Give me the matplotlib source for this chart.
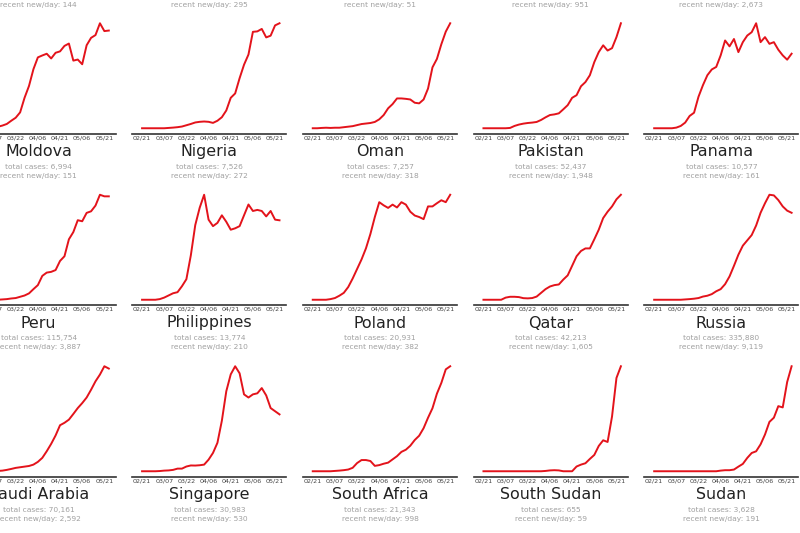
import numpy as np
import matplotlib
matplotlib.use('Agg')
import matplotlib.pyplot as plt

# day offsets from 02/21, sampled every 3 days up to 05/24
days = np.arange(0, 94, 3)
tick_days = [0, 15, 30, 45, 60, 75, 90]
tick_labels = ['02/21', '03/07', '03/22', '04/06', '04/21', '05/06', '05/21']

countries = ['Moldova', 'Nigeria', 'Oman', 'Pakistan', 'Panama',
             'Peru', 'Philippines', 'Poland', 'Qatar', 'Russia',
             'Saudi Arabia', 'Singapore', 'South Africa', 'South Sudan', 'Sudan']
total_cases = [6994, 7526, 7257, 52437, 10577,
               115754, 13774, 20931, 42213, 335880,
               70161, 30983, 21343, 655, 3628]
recent_new = [151, 272, 318, 1948, 161,
              3887, 210, 382, 1605, 9119,
              2592, 530, 998, 59, 191]
# recent new/day of the row above (cut off at the top)
prev_recent = [144, 295, 51, 951, 2673]

# new cases per day, relative to each country's peak
moldova = [0, 0, 0, 0.3, 0.5, 0.9, 1.4, 2.5, 4, 7, 9.8, 14.8, 28.4, 39.4, 55, 66,
           67.8, 69.4, 65, 70.3, 71.6, 76.7, 78.9, 63, 64, 59.6, 77.3, 84.2, 86.8, 97.8, 90.5, 91]
nigeria = [0, 0, 0, 0, 0, 0, 0.3, 0.6, 1, 1.6, 2.8, 4, 5.4, 6, 6.3, 6,
           5, 7, 10.3, 16.6, 28.4, 32.5, 46.7, 59.3, 68.8, 90, 90.4, 92.7, 84.8, 86.4, 96, 98]
oman = [0, 0, 0.3, 0.5, 0.3, 0.5, 0.5, 1, 1.5, 2, 3, 4, 4.5, 5, 6, 8.5,
        12.6, 19, 23, 28.4, 28.4, 28, 27.4, 24.3, 23.7, 27.4, 37.8, 58, 66, 80, 92, 100]
pakistan = [0, 0, 0, 0, 0, 0, 0.3, 2.2, 3.5, 4.4, 5, 5.4, 6, 7.9, 10.4, 12.6,
            13.2, 14.2, 18, 22, 29, 31.5, 40, 44, 50.5, 63, 72.5, 79, 74, 76.3, 86.8, 100]
panama = [0, 0, 0, 0, 0, 0.6, 2.2, 5.4, 11.7, 14.8, 30, 41, 50.5, 56, 58.4, 69.4,
          83.6, 78, 85, 72.5, 82, 88.3, 91.5, 100, 82, 86.8, 80.4, 82, 74.8, 69.4, 65.3, 71]
peru = [0, 0, 0, 0, 0, 0, 0, 0.3, 0.6, 1.2, 1.6, 2.8, 4, 6, 10, 13.8,
        22.5, 25.6, 26.3, 28, 36.6, 41, 57, 63.8, 75, 74, 81.9, 83.4, 88.8, 99, 97.5, 97.5]
philippines = [0, 0, 0, 0, 0.6, 2, 4, 6, 7, 12.5, 19, 41, 69, 85, 97, 74,
               68, 71, 78, 72, 64.7, 66, 68, 78, 88, 82, 83, 82, 77, 82, 74, 73.4]
poland = [0, 0, 0, 0, 0.6, 1.6, 3.8, 6.5, 12, 20, 29, 38, 48.5, 62, 78, 92,
          89, 86.6, 89.7, 87, 92, 89.7, 83, 79.4, 78, 76, 88, 88, 91, 93.8, 92, 99]
qatar = [0, 0, 0, 0, 0, 2, 2.8, 2.8, 2.5, 1.5, 1.3, 1.6, 3, 6.5, 10, 12.5,
         13.8, 14.4, 19, 23, 32, 41, 46, 48.4, 48.4, 57, 66, 77, 83, 88, 94.7, 99]
russia = [0, 0, 0, 0, 0, 0, 0, 0.3, 0.6, 1, 1.6, 3, 3.8, 5.3, 8, 10,
          14.7, 22, 32, 42.5, 51, 56, 61, 70, 82, 91, 99, 98.4, 94, 88, 84, 82]
saudi = [0, 0, 0, 0, 0, 0, 0.3, 0.6, 1.3, 2.2, 3.2, 3.8, 4.4, 5, 6.3, 8.9,
         12.7, 19, 26, 34, 43.7, 46, 49, 54.4, 60, 64.7, 70, 77.4, 85.4, 91.8, 99.7, 97.5]
singapore = [0, 0, 0, 0, 0.2, 0.6, 0.8, 1.3, 2.5, 2.5, 4.5, 5.5, 5.4, 5.7, 6.3, 11,
             17.4, 27, 48, 76, 92, 99.7, 93, 73, 70, 73, 74, 79, 72, 60, 57, 54]
south_africa = [0, 0, 0, 0, 0, 0.3, 0.6, 1, 1.6, 3.2, 7.6, 10.4, 10.4, 9.5, 5, 5.7,
                7, 8, 11, 14, 18, 20, 23.7, 29, 33, 40, 49.7, 58.5, 72, 82, 94.6, 97.5]
south_sudan = [0, 0, 0, 0, 0, 0, 0, 0, 0, 0, 0, 0, 0, 0, 0.3, 0.8,
               1, 0.8, 0, 0, 0, 4.5, 6.3, 7.6, 11.7, 15.5, 24, 29.4, 27.8, 52, 88.6, 99.7]
sudan = [0, 0, 0, 0, 0, 0, 0, 0, 0, 0, 0, 0, 0, 0, 0, 0.6,
         1, 1, 1.6, 4.4, 7, 12.7, 17.4, 19, 25.6, 35, 47, 51, 62, 60.8, 85, 100]

series = [moldova, nigeria, oman, pakistan, panama,
          peru, philippines, poland, qatar, russia,
          saudi, singapore, south_africa, south_sudan, sudan]

W, H = 800, 533
fig = plt.figure(figsize=(8, 5.33), dpi=100)

def px(x, y):
    return x / W, 1 - y / H

col_step = 170.7
row_step = 171.5
ax_w, ax_h = 154, 115.5

def col_center(c):
    return -38.4 + c * col_step + ax_w / 2

for i, name in enumerate(countries):
    r, c = divmod(i, 5)
    left = -38.4 + c * col_step
    bottom = 133.5 + r * row_step
    ax = fig.add_axes([left / W, 1 - bottom / H, ax_w / W, ax_h / H])
    ax.plot(days, series[i], color='#e3131b', lw=1.4)
    ax.set_xlim(-6.6, 97.6)
    ax.set_xticks(tick_days)
    ax.set_xticklabels(tick_labels, fontsize=4.6, color='#444444')
    ax.tick_params(axis='x', length=0, pad=1.2)
    ax.set_yticks([])
    for s in ['left', 'right', 'top']:
        ax.spines[s].set_visible(False)
    ax.spines['bottom'].set_color('#333333')
    ax.spines['bottom'].set_linewidth(1.2)
    cx = col_center(c)
    fig.text(*px(cx, bottom + 18), name, fontsize=11.4, color='#222222',
             ha='center', va='center')
    fig.text(*px(cx, bottom + 33.2), 'total cases: {:,}'.format(total_cases[i]),
             fontsize=5.4, color='#a0a0a0', ha='center', va='center')
    fig.text(*px(cx, bottom + 42.2), 'recent new/day: {:,}'.format(recent_new[i]),
             fontsize=5.4, color='#a0a0a0', ha='center', va='center')

for c, v in enumerate(prev_recent):
    fig.text(*px(col_center(c), 4.5), 'recent new/day: {:,}'.format(v),
             fontsize=5.4, color='#a0a0a0', ha='center', va='center')

fig.savefig('out.png', dpi=100, facecolor='white')
